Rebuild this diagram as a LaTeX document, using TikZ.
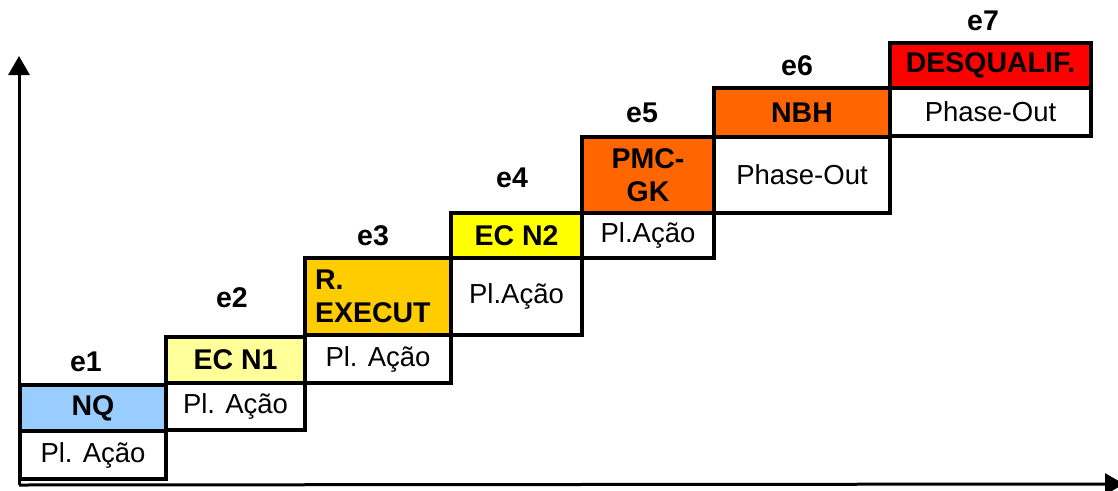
\documentclass[tikz,border=0pt]{standalone}
\usepackage{fontspec}
\setmainfont{Liberation Sans}
\usetikzlibrary{arrows.meta}
\definecolor{cblue}{HTML}{99CCFF}
\definecolor{clyel}{HTML}{FFFF99}
\definecolor{cgold}{HTML}{FFCC00}
\definecolor{cyel}{HTML}{FFFF00}
\definecolor{corng}{HTML}{FF6600}
\definecolor{cred}{HTML}{FF0000}
\begin{document}
\begin{tikzpicture}[x=1pt,y=-1pt,
  cell/.style={draw=black, line width=3.2pt, inner sep=0pt, outer sep=0pt,
    font=\fontsize{27.5}{33}\selectfont, align=center},
  hd/.style={cell, font=\fontsize{28.5}{33}\selectfont\bfseries},
  elab/.style={font=\fontsize{28.5}{33}\selectfont\bfseries, inner sep=0pt},
  axis/.style={line width=3pt, -{Triangle[length=19pt,width=21pt]}}]
\useasboundingbox (0,0) rectangle (1118,490);
% e1
\node[cell, minimum width=146, minimum height=48] (pa1) at (93,455) {Pl. Ação};
\node[hd, fill=cblue, minimum width=146, minimum height=46] (nq) at (93,408) {NQ};
% e2
\node[cell, minimum width=139, minimum height=47] (pa2) at (235.5,406.5) {Pl. Ação};
\node[hd, fill=clyel, minimum width=139, minimum height=46] (ecn1) at (235.5,360) {EC N1};
% e3
\node[cell, minimum width=146, minimum height=48] (pa3) at (378,359) {Pl. Ação};
\node[hd, fill=cgold, minimum width=146, minimum height=77, text width=126, align=left] (rex) at (378,296.5) {R.\\EXECUT};
% e4
\node[cell, minimum width=131, minimum height=77] (pa4) at (516.5,296.5) {Pl.Ação};
\node[hd, fill=cyel, minimum width=131, minimum height=45] (ecn2) at (516.5,235.5) {EC N2};
% e5
\node[cell, minimum width=132, minimum height=45] (pa5) at (648,235.5) {Pl.Ação};
\node[hd, fill=corng, minimum width=132, minimum height=76] (pmc) at (648,175) {PMC-\\GK};
% e6
\node[cell, minimum width=176, minimum height=76] (po6) at (802,175) {Phase-Out};
\node[hd, fill=corng, minimum width=176, minimum height=49] (nbh) at (802,112.5) {NBH};
% e7
\node[cell, minimum width=201, minimum height=48] (po7) at (990.5,112) {Phase-Out};
\node[hd, fill=cred, minimum width=201, minimum height=45] (dsq) at (990.5,65.5) {DESQUALIF.};
% step labels
\node[elab] (e1) at (86,362) {e1};
\node[elab] (e2) at (232,298) {e2};
\node[elab] (e3) at (373,236) {e3};
\node[elab] (e4) at (512,178) {e4};
\node[elab] (e5) at (642,113) {e5};
\node[elab] (e6) at (797,66) {e6};
\node[elab] (e7) at (983,21) {e7};
% axes
\coordinate (o) at (19,485);
\coordinate (ytop) at (19,56);
\coordinate (xend) at (1124,484);
\draw[axis] (o) -- (ytop);
\draw[axis] (o) -- (xend);
\end{tikzpicture}
\end{document}
